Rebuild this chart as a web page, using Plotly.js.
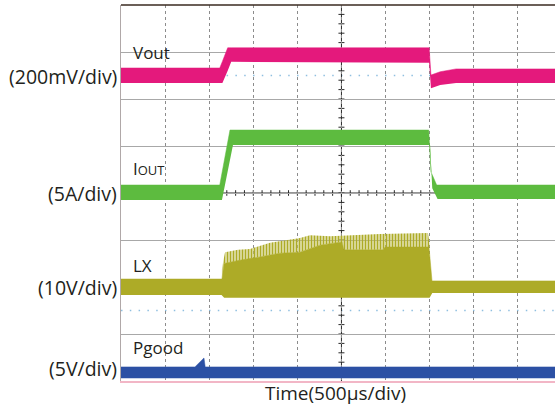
<!DOCTYPE html>
<html>
<head>
<meta charset="utf-8">
<script src="https://cdn.plot.ly/plotly-3.0.1.min.js"></script>
<style>html,body{margin:0;padding:0;background:#fff;overflow:hidden}</style>
</head>
<body>
<div id="chart" style="width:555px;height:406px"></div>
<script>
// Time in microseconds (500 us/div), vertical in scope divisions (0..8)
// Vout band (200mV/div)
const voutX     = [0, 1120, 1150, 1210, 1250, 3495, 3515, 3620, 3800, 4922];
const voutUpper = [6.66, 6.66, 6.80, 7.09, 7.09, 7.09, 6.51, 6.58, 6.64, 6.64];
const voutLower = [6.34, 6.34, 6.34, 6.60, 6.79, 6.77, 6.23, 6.30, 6.34, 6.34];

// Iout band (5A/div)
const ioutUpperX = [0, 1120, 1236, 3490, 3515, 3580, 4922];
const ioutUpper  = [4.17, 4.17, 5.34, 5.34, 4.45, 4.17, 4.17];
const ioutLowerX = [0, 1145, 1270, 3505, 3530, 3590, 4922];
const ioutLower  = [3.85, 3.85, 5.02, 5.02, 4.10, 3.87, 3.87];

// LX (10V/div)
const lxLowerX = [0, 1140, 1170, 3500, 3530, 4922];
const lxLower  = [1.83, 1.83, 1.77, 1.77, 1.87, 1.87];
const lxSolidX = [0, 1145, 1168, 1349, 1576, 1803, 2030, 2257, 2506, 2529, 2971, 2994, 3493, 3527, 4922];
const lxSolid  = [2.17, 2.17, 2.50, 2.57, 2.64, 2.72, 2.74, 2.89, 2.96, 2.79, 2.79, 2.85, 2.85, 2.13, 2.13];
const lxSpikeX = [1145, 1180, 1327, 1463, 1690, 2030, 2143, 2370, 2937, 3481, 3504];
const lxSpike  = [2.40, 2.74, 2.79, 2.81, 2.94, 3.04, 3.10, 3.08, 3.13, 3.15, 2.85];

// Pgood (5V/div)
const pgX     = [0, 839, 941, 955, 4922];
const pgUpper = [0.30, 0.30, 0.49, 0.30, 0.30];
const pgLower = [0.06, 0.06, 0.06, 0.06, 0.06];

const channelLabels = ['(200mV/div)', '(5A/div)', '(10V/div)', '(5V/div)'];
const channelLevels = [6.47, 4.0, 2.0, 0.26];
const traceNames = ['Vout', 'I<span style="font-size:13px">OUT</span>', 'LX', 'Pgood'];
const xTitle = 'Time(500µs/div)';

const C_VOUT = '#e4197c', C_IOUT = '#5dbb3f', C_LX = '#adab27', C_PG = '#2c50a4';
const FONT = '"Open Sans", "DejaVu Sans", sans-serif';

function band(xl, yl, xu, yu, color) {
  return [
    {x: xl, y: yl, mode: 'lines', line: {width: 0, color: color}, hoverinfo: 'skip', showlegend: false},
    {x: xu, y: yu, mode: 'lines', line: {width: 0.5, color: color}, fill: 'tonexty', fillcolor: color, hoverinfo: 'skip', showlegend: false}
  ];
}

// spike region polygon: spike envelope then solid top (within same span) reversed
const x0 = lxSpikeX[0], x1 = lxSpikeX[lxSpikeX.length - 1];
const solidSubX = [], solidSubY = [];
lxSolidX.forEach((v, i) => { if (v >= x0 && v <= x1) { solidSubX.push(v); solidSubY.push(lxSolid[i]); } });
const spikePolyX = lxSpikeX.concat(solidSubX.slice().reverse());
const spikePolyY = lxSpike.concat(solidSubY.slice().reverse());

const traces = [].concat(
  band(voutX, voutLower, voutX, voutUpper, C_VOUT),
  band(ioutLowerX, ioutLower, ioutUpperX, ioutUpper, C_IOUT),
  [{x: spikePolyX, y: spikePolyY, mode: 'lines', line: {width: 0, color: C_LX}, fill: 'toself',
    fillcolor: 'rgba(255,255,255,0)',
    fillpattern: {shape: '|', size: 3, solidity: 0.6, fgcolor: C_LX, bgcolor: 'rgba(220,218,150,0.35)'},
    hoverinfo: 'skip', showlegend: false}],
  band(lxLowerX, lxLower, lxSolidX, lxSolid, C_LX),
  band(pgX, pgLower, pgX, pgUpper, C_PG)
);

const shapes = [];
// top border
shapes.push({type: 'line', xref: 'paper', yref: 'paper', x0: 0, x1: 1, y0: 1, y1: 1, line: {color: '#3a2a20', width: 1.5}});
// faint reference dotted rows
[6.5, 1.5].forEach(v => shapes.push({type: 'line', xref: 'paper', yref: 'y', x0: 0, x1: 1, y0: v, y1: v,
  line: {color: '#8fbfe0', width: 1.5, dash: '1.5px,7.3px'}, layer: 'below'}));
// center crosshair (under the traces)
shapes.push({type: 'line', xref: 'x', yref: 'paper', x0: 2500, x1: 2500, y0: 0, y1: 1, line: {color: '#2a2a2a', width: 1}, layer: 'below'});
shapes.push({type: 'line', xref: 'paper', yref: 'y', x0: 0, x1: 1, y0: 4, y1: 4, line: {color: '#2a2a2a', width: 1}, layer: 'below'});
for (let t = 100; t <= 4900; t += 100) {
  shapes.push({type: 'line', xref: 'x', yref: 'y', x0: t, x1: t, y0: 3.94, y1: 4.06, line: {color: '#2a2a2a', width: 1}, layer: 'below'});
}
for (let d = 0.2; d <= 7.81; d += 0.2) {
  shapes.push({type: 'line', xref: 'x', yref: 'y', x0: 2466, x1: 2534, y0: d, y1: d, line: {color: '#2a2a2a', width: 1}, layer: 'below'});
}

const annotations = [];
channelLabels.forEach((t, i) => annotations.push({
  text: t, xref: 'paper', yref: 'y', x: 0, xshift: -2, y: channelLevels[i], xanchor: 'right', yanchor: 'middle',
  showarrow: false, font: {family: FONT, size: 19.5, color: '#231f20'}
}));
const labelY = [6.98, 4.52, 2.45, 0.72];
traceNames.forEach((t, i) => annotations.push({
  text: t, xref: 'x', yref: 'y', x: 115, y: labelY[i], xanchor: 'left', yanchor: 'middle',
  showarrow: false, font: {family: FONT, size: 17, color: '#231f20'}
}));
annotations.push({text: xTitle, xref: 'paper', yref: 'paper', x: 0.495, y: 0, yshift: -12, xanchor: 'center', yanchor: 'middle',
  showarrow: false, font: {family: FONT, size: 19, color: '#231f20'}});

const layout = {
  width: 555, height: 406,
  margin: {l: 121, r: 0, t: 5, b: 25},
  paper_bgcolor: '#ffffff', plot_bgcolor: '#ffffff',
  showlegend: false,
  xaxis: {range: [0, 4922], dtick: 500, tick0: 0, showticklabels: false, ticks: '', zeroline: false,
    showgrid: true, gridcolor: '#8c8c8c', griddash: 'dot', gridwidth: 1,
    showline: true, linecolor: '#f2b6c6', linewidth: 1.5, fixedrange: true},
  yaxis: {range: [0, 8], dtick: 1, tick0: 0, showticklabels: false, ticks: '', zeroline: false,
    showgrid: true, gridcolor: '#a8a8a8', gridwidth: 1,
    showline: true, linecolor: '#b0a8a8', linewidth: 1.5, fixedrange: true},
  shapes: shapes,
  annotations: annotations
};

Plotly.newPlot('chart', traces, layout, {displayModeBar: false, staticPlot: true});
</script>
</body>
</html>
